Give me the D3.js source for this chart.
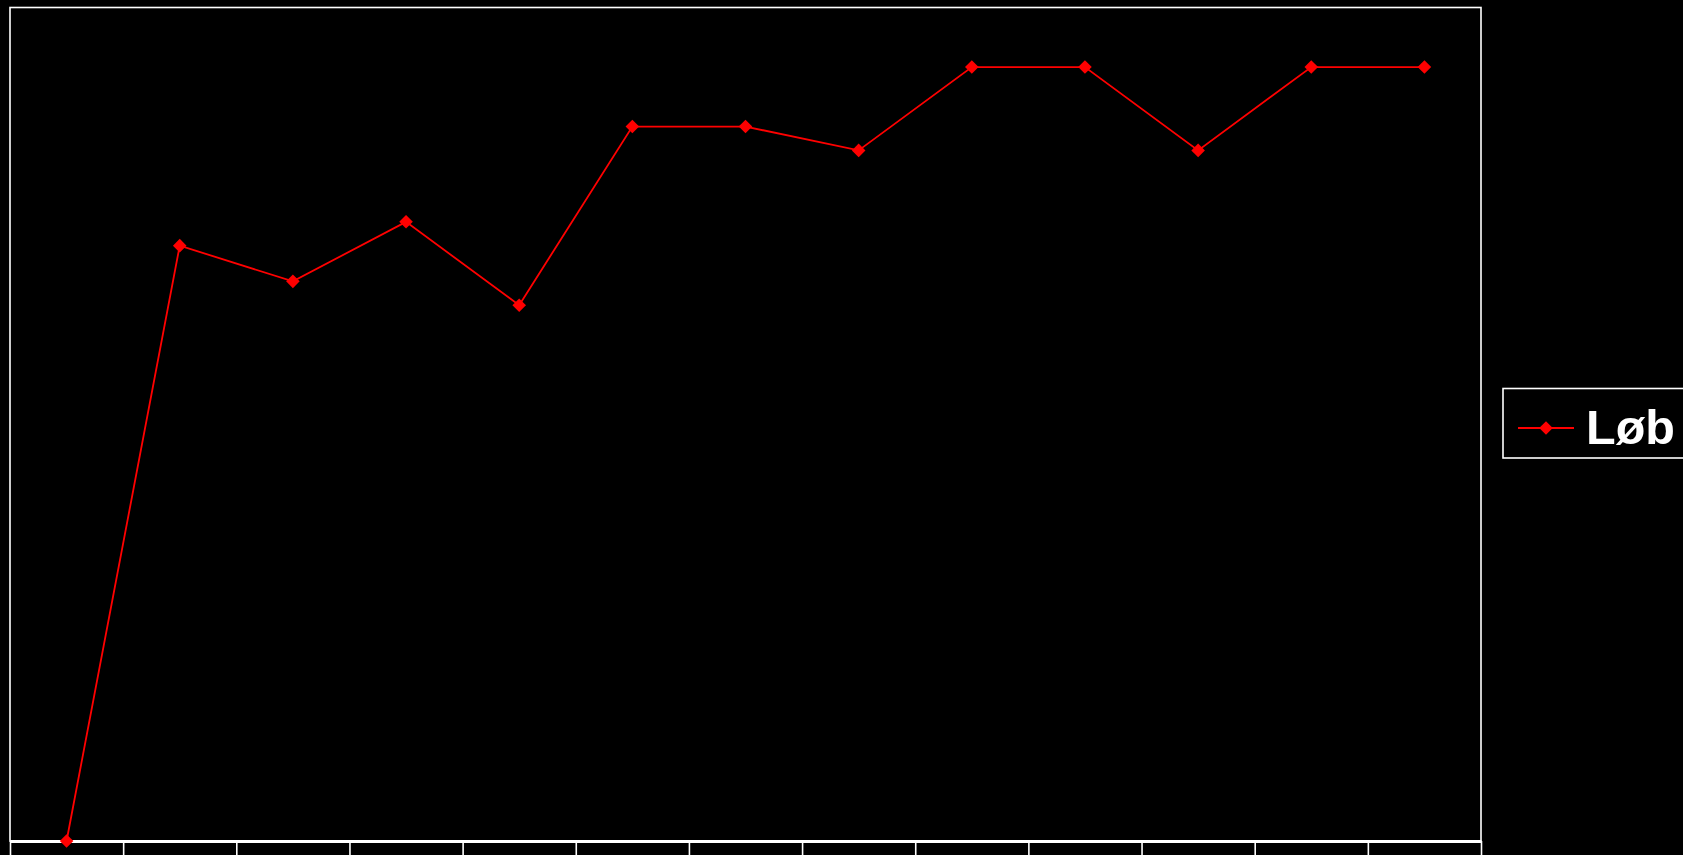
<!DOCTYPE html>
<html>
<head>
<meta charset="utf-8">
<script src="https://cdn.jsdelivr.net/npm/d3@7/dist/d3.min.js"></script>
<style>
  html, body { margin: 0; padding: 0; background: #000; overflow: hidden; }
  svg { display: block; }
</style>
</head>
<body>
<script>
// Runs, in order
const categories = ["1", "2", "3", "4", "5", "6", "7", "8", "9", "10", "11", "12", "13"];
const lobValues = [0, 50, 47, 52, 45, 60, 60, 58, 65, 65, 58, 65, 65];
const seriesName = "Løb";
const yDomain = [0, 70];

const W = 1683, H = 855;
const plot = { left: 10, right: 1481, top: 7.5, bottom: 841 };

const svg = d3.select("body").append("svg")
  .attr("width", W).attr("height", H)
  .style("background", "#000");

const x = d3.scaleBand().domain(categories).range([plot.left, plot.right]).padding(0);
const y = d3.scaleLinear().domain(yDomain).range([plot.bottom, plot.top]);
// category boundaries for the tick marks
const xEdge = d3.scaleLinear().domain([0, categories.length]).range([plot.left, plot.right]);

// plot frame
svg.append("rect")
  .attr("x", plot.left).attr("y", plot.top)
  .attr("width", plot.right - plot.left).attr("height", plot.bottom - plot.top)
  .attr("fill", "none").attr("stroke", "#fff").attr("stroke-width", 1.6);

// bottom axis with ticks between categories
const axis = svg.append("g")
  .attr("transform", `translate(0,${plot.bottom})`)
  .call(d3.axisBottom(xEdge)
    .tickValues(d3.range(0, categories.length + 1))
    .tickFormat("")
    .tickSize(20)
    .tickSizeOuter(0));
axis.select(".domain").attr("stroke", "#fff").attr("stroke-width", 3);
axis.selectAll(".tick line").attr("stroke", "#fff").attr("stroke-width", 1.6);

const cx = c => x(c) + x.bandwidth() / 2;

const line = d3.line()
  .x((d, i) => cx(categories[i]))
  .y(d => y(d));

svg.append("path")
  .datum(lobValues)
  .attr("d", line)
  .attr("fill", "none")
  .attr("stroke", "#ff0000")
  .attr("stroke-width", 1.8);

const diamond = d3.symbol().type(d3.symbolSquare).size(92);

svg.append("g").selectAll("path")
  .data(lobValues)
  .join("path")
  .attr("d", diamond)
  .attr("transform", (d, i) => `translate(${cx(categories[i])},${y(d)}) rotate(45)`)
  .attr("fill", "#ff0000");

// legend
const lg = svg.append("g");
lg.append("rect")
  .attr("x", 1503).attr("y", 388.5)
  .attr("width", 240).attr("height", 69.5)
  .attr("fill", "#000").attr("stroke", "#fff").attr("stroke-width", 1.6);
lg.append("line")
  .attr("x1", 1518).attr("x2", 1574).attr("y1", 428).attr("y2", 428)
  .attr("stroke", "#ff0000").attr("stroke-width", 1.8);
lg.append("path")
  .attr("d", diamond)
  .attr("transform", "translate(1546,428) rotate(45)")
  .attr("fill", "#ff0000");
lg.append("text")
  .attr("x", 1586).attr("y", 444)
  .attr("fill", "#fff")
  .attr("font-family", "Liberation Sans, Arial, sans-serif")
  .attr("font-weight", "bold")
  .attr("font-size", 48.5)
  .text(seriesName);
</script>
</body>
</html>
